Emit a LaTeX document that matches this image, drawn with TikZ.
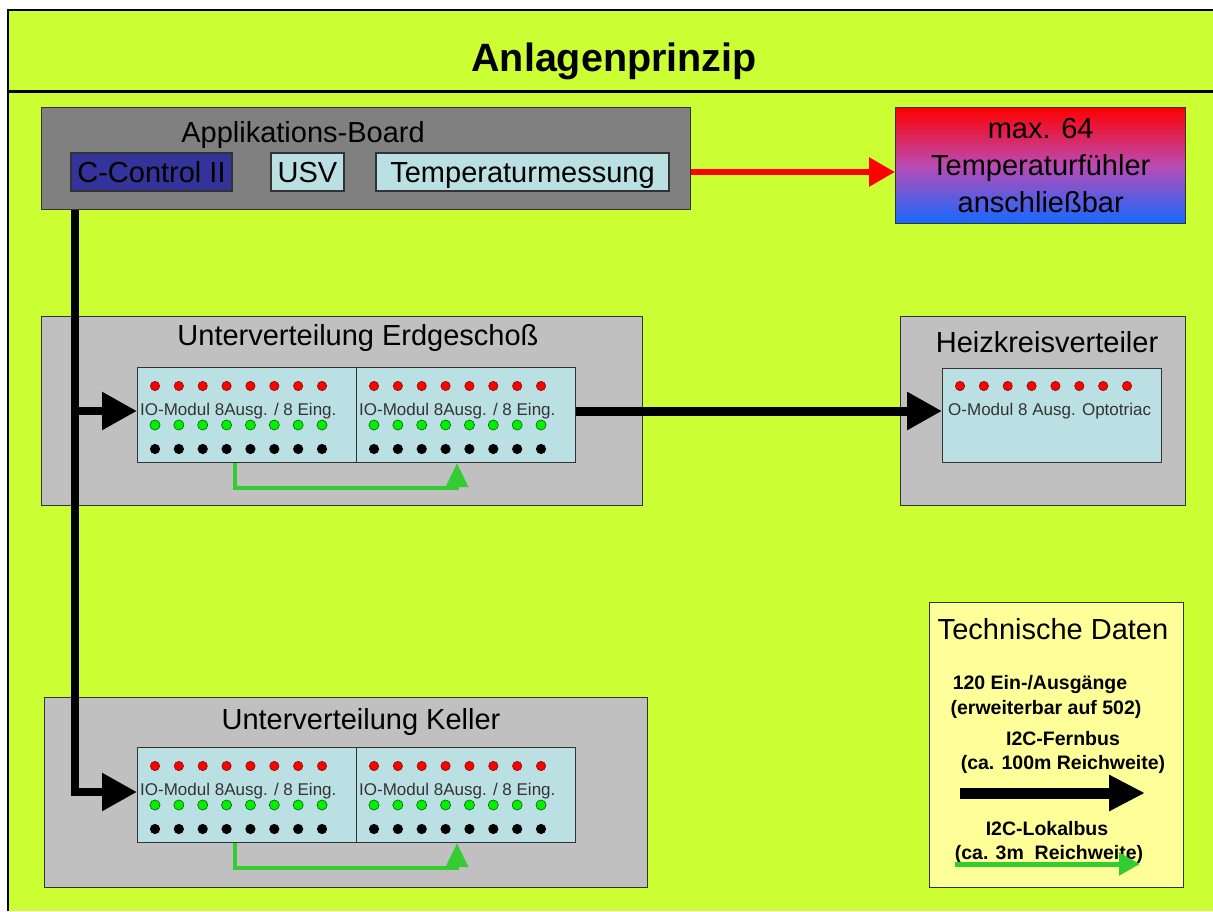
\documentclass[tikz,border=0pt]{standalone}
\usepackage{fontspec}
\setmainfont{Liberation Sans}
\usetikzlibrary{arrows.meta,calc}

\definecolor{hgruen}{RGB}{204,255,51}
\definecolor{dgrau}{RGB}{128,128,128}
\definecolor{hgrau}{RGB}{192,192,192}
\definecolor{tuerkis}{RGB}{187,224,227}
\definecolor{dblau}{RGB}{51,51,153}
\definecolor{hgelb}{RGB}{255,255,153}
\definecolor{busgruen}{RGB}{51,204,51}
\definecolor{ledgruen}{RGB}{0,240,0}
\definecolor{fblau}{RGB}{20,105,255}
\definecolor{flila}{RGB}{185,75,180}

\begin{document}
\begin{tikzpicture}[x=1pt,y=-1pt,
    kasten/.style={draw=black!80,line width=1.4pt,anchor=north west,inner sep=0pt},
    feld/.style={draw=black!80,line width=1.2pt,fill=tuerkis,inner sep=0pt,minimum height=38pt,
        text height=21pt,text depth=0pt,font=\fontsize{29}{35}\selectfont},
    ueber/.style={anchor=base,inner sep=0pt,font=\fontsize{29}{35}\selectfont},
    modul/.style={draw=black!80,line width=1.2pt,fill=tuerkis,anchor=north west,
        minimum width=219pt,minimum height=95pt,inner sep=0pt},
    modtext/.style={anchor=base west,inner sep=0pt,text=black!80,font=\fontsize{17}{20}\selectfont},
    legtext/.style={anchor=base,inner sep=0pt,font=\bfseries\fontsize{19.5}{24}\selectfont},
    ledrot/.style={fill=red,draw=red!50!black,line width=0.5pt},
    ledgr/.style={fill=ledgruen,draw=black!70!green,line width=0.5pt},
    fernbus/.style={line width=8.5pt,line join=miter,-{Triangle[length=35pt,width=36pt]}},
    lokalbus/.style={busgruen,line width=4pt,-{Triangle[length=24pt,width=22pt]}}]

\useasboundingbox (0,0) rectangle (1213,911);
\fill[hgruen] (8,10) rectangle (1213,911);
\draw[line width=2pt] (8,911) -- (8,10) -- (1213,10);
\draw[line width=3pt] (8,91) -- (1213,91);
\node[anchor=base,inner sep=0pt,font=\bfseries\fontsize{39.5}{44}\selectfont] (titel) at (614,71) {Anlagenprinzip};

\node[kasten,fill=dgrau,minimum width=649pt,minimum height=102pt] (board) at (41,107) {};
\node[ueber] (boardtitel) at (303,142) {Applikations-Board};
\node[feld,fill=dblau,minimum width=161pt] (cc) at (151.5,172) {C-Control II};
\node[feld,minimum width=73pt] (usv) at (307.5,172) {USV};
\node[feld,minimum width=293pt] (temp) at (522.5,172) {Temperaturmessung};

\node[kasten,top color=red,bottom color=fblau,middle color=flila,minimum width=290pt,minimum height=116pt,
    align=center,font=\fontsize{29}{37}\selectfont] (fuehler) at (895,107)
    {max. 64\\Temperaturfühler\\anschließbar};
\draw[red,line width=6pt,-{Triangle[length=26pt,width=28pt]}] (board.east |- temp.east) -- (fuehler.west |- temp.east);

\node[kasten,fill=hgrau,minimum width=601pt,minimum height=189pt] (eg) at (41,316) {};
\node[ueber] (egtitel) at (358,345) {Unterverteilung Erdgeschoß};
\node[modul] (eg1) at (137,367) {};
\node[modul] (eg2) at (356,367) {};

\node[kasten,fill=hgrau,minimum width=285pt,minimum height=189pt] (hkv) at (900,316) {};
\node[ueber] (hkvtitel) at (1047,352) {Heizkreisverteiler};
\node[modul,minimum height=94pt] (hk) at (942,368) {};
\node[modtext] (hktext) at ($(hk.north west)+(6,47)$) {O-Modul 8 Ausg. Optotriac};

\node[kasten,fill=hgrau,minimum width=603pt,minimum height=190pt] (ke) at (44,697) {};
\node[ueber] (ketitel) at (361,729) {Unterverteilung Keller};
\node[modul] (ke1) at (137,747) {};
\node[modul] (ke2) at (356,747) {};

\foreach \m in {eg1,eg2,ke1,ke2}{
  \node[modtext] (\m text) at ($(\m.north west)+(3,48)$) {IO-Modul 8Ausg. / 8 Eing.};
  \foreach \i in {0,...,7}{
    \draw[ledrot] ($(\m.north west)+(18+23.86*\i,19)$) circle (4.7);
    \draw[ledgr] ($(\m.north west)+(18+23.86*\i,58)$) circle (5.1);
    \fill ($(\m.north west)+(18+23.86*\i,82)$) circle (5.1);
  }
}
\foreach \i in {0,...,7}
  \draw[ledrot] ($(hk.north west)+(18+23.86*\i,18)$) circle (4.7);

\coordinate (bus1) at (75,411);
\coordinate (bus2) at (75,792);
\draw[fernbus] (board.south -| bus1) -- (bus2) -- (ke1.west |- bus2);
\draw[fernbus] (bus1) -- (eg1.west |- bus1);
\draw[fernbus,line width=9pt] (eg2.east |- bus1) -- (hk.west |- bus1);

\draw[lokalbus] ([xshift=98pt]eg1.south west) -- ++(0,25) -| ([xshift=101pt]eg2.south west);
\draw[lokalbus] ([xshift=98pt]ke1.south west) -- ++(0,25) -| ([xshift=101pt]ke2.south west);

\node[kasten,fill=hgelb,minimum width=254pt,minimum height=285pt] (technik) at (929,602) {};
\node[ueber] (techniktitel) at (1053,639) {Technische Daten};
\node[legtext] (kanaele) at (1040,689) {120 Ein-/Ausgänge};
\node[legtext] (erweitert) at (1046,714) {(erweiterbar auf 502)};
\node[legtext] (fern) at (1063,745) {I2C-Fernbus};
\node[legtext] (fernweite) at (1063,769) {(ca. 100m Reichweite)};
\coordinate (fb-a) at (960,793);
\coordinate (fb-b) at (1145,793);
\draw[line width=11pt,-{Triangle[length=36pt,width=34pt]}] (fb-a) -- (fb-b);
\node[legtext] (lokal) at (1047,835) {I2C-Lokalbus};
\node[legtext] (lokalweite) at (1049,859) {(ca. 3m\ \ Reichweite)};
\coordinate (lb-a) at (955,864);
\coordinate (lb-b) at (1140,864);
\draw[busgruen,line width=5pt,-{Triangle[length=21pt,width=22pt]}] (lb-a) -- (lb-b);
\end{tikzpicture}
\end{document}
